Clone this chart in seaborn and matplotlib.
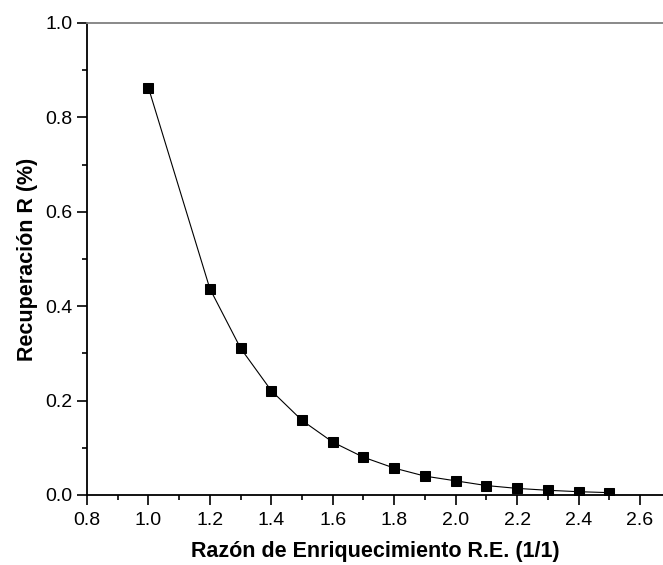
import seaborn as sns
import pandas as pd
import matplotlib.pyplot as plt
from matplotlib.ticker import MultipleLocator

# datos
razon = [1.0, 1.2, 1.3, 1.4, 1.5, 1.6, 1.7, 1.8, 1.9, 2.0, 2.1, 2.2, 2.3, 2.4, 2.5]
recuperacion = [0.863, 0.437, 0.311, 0.221, 0.158, 0.112, 0.080, 0.057, 0.040,
                0.030, 0.020, 0.014, 0.010, 0.007, 0.005]

df = pd.DataFrame({'RE': razon, 'R': recuperacion})

sns.set_style('ticks', {'text.color': 'black', 'axes.labelcolor': 'black',
                        'xtick.color': 'black', 'ytick.color': 'black'})
plt.rcParams['font.family'] = ['Liberation Sans', 'DejaVu Sans']

fig = plt.figure(figsize=(6.63, 5.65), dpi=100)
ax = fig.add_axes([0.1312, 0.1239, 0.8688, 0.8354])

sns.lineplot(data=df, x='RE', y='R', ax=ax, color='black', linewidth=0.8,
             marker='s', markersize=6.8, markeredgecolor='black', markerfacecolor='black')

ax.set_xlim(0.8, 2.675)
ax.set_ylim(0.0, 1.0)
ax.xaxis.set_major_locator(MultipleLocator(0.2))
ax.xaxis.set_minor_locator(MultipleLocator(0.1))
ax.yaxis.set_major_locator(MultipleLocator(0.2))
ax.yaxis.set_minor_locator(MultipleLocator(0.1))
ax.xaxis.set_major_formatter(plt.FuncFormatter(lambda v, p: '%.1f' % v))
ax.yaxis.set_major_formatter(plt.FuncFormatter(lambda v, p: '%.1f' % v))

ax.tick_params(which='major', direction='out', length=7, width=1.2, labelsize=14,
               colors='black')
ax.tick_params(which='minor', direction='out', length=3.6, width=1.2, colors='black')
ax.tick_params(axis='x', which='major', pad=5)
ax.tick_params(axis='y', which='major', pad=3.5)

ax.spines['right'].set_visible(False)
ax.spines['top'].set_color('#808080')
for s in ['left', 'bottom']:
    ax.spines[s].set_linewidth(1.3)
    ax.spines[s].set_color('black')
ax.spines['top'].set_linewidth(1.3)

ax.set_xlabel('Razón de Enriquecimiento R.E. (1/1)', fontsize=15.5, fontweight='bold',
              labelpad=9, color='black')
ax.set_ylabel('Recuperación R (%)', fontsize=15.5, fontweight='bold',
              labelpad=5, color='black')

fig.savefig('out.png', dpi=100)
